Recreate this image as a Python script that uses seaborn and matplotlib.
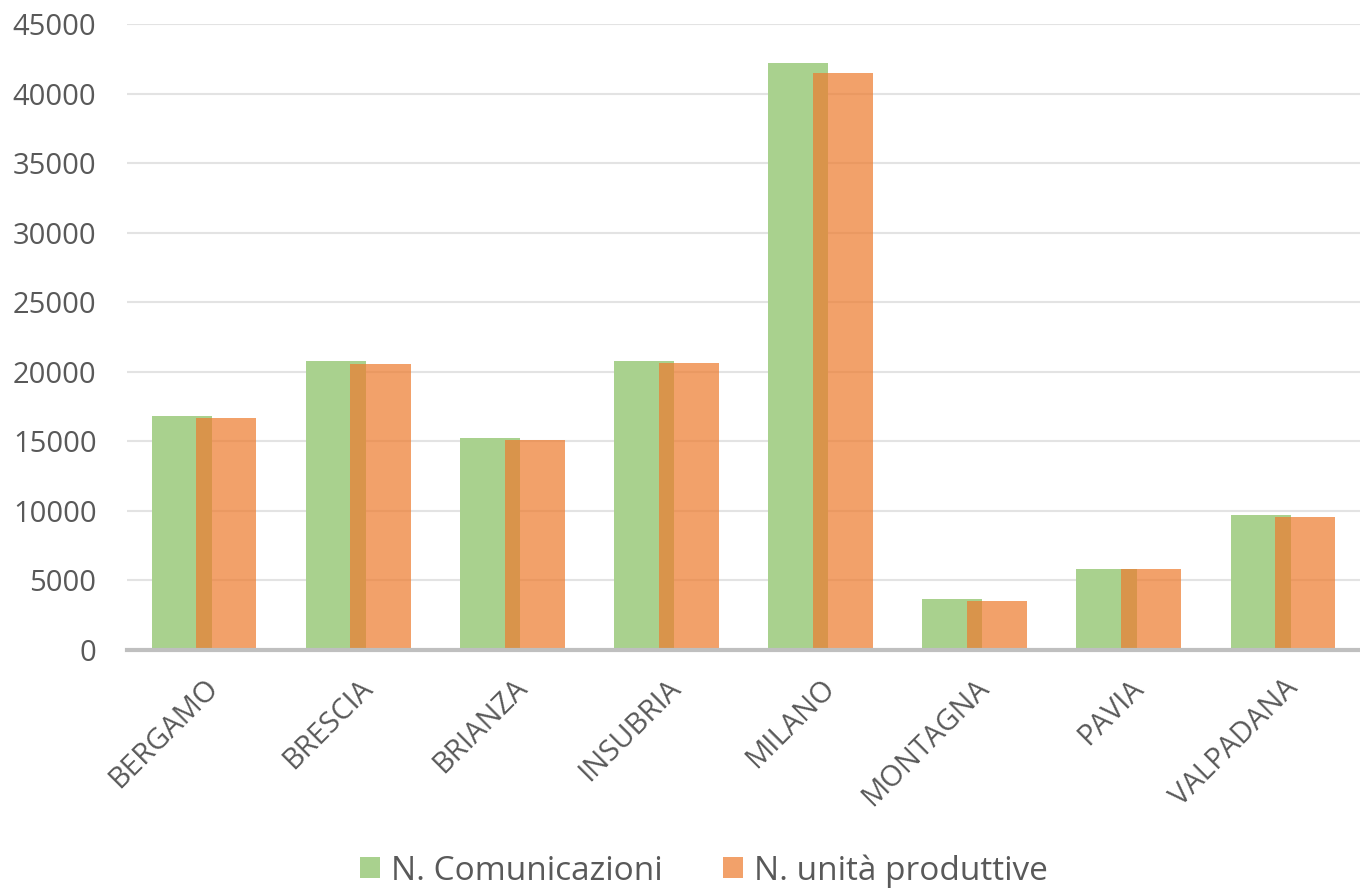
import numpy as np
import pandas as pd
import matplotlib
matplotlib.use("Agg")
import matplotlib.pyplot as plt
import seaborn as sns

# data
regioni = ["BERGAMO", "BRESCIA", "BRIANZA", "INSUBRIA", "MILANO", "MONTAGNA", "PAVIA", "VALPADANA"]
comunicazioni = [16780, 20780, 15220, 20780, 42180, 3640, 5800, 9680]
unita_produttive = [16650, 20540, 15100, 20660, 41460, 3500, 5790, 9540]
serie = ["N. Comunicazioni", "N. unità produttive"]
colori = ["#a9d18e", "#ed7d31"]

df = pd.DataFrame({
    "regione": regioni * 2,
    "valore": comunicazioni + unita_produttive,
    "serie": [serie[0]] * len(regioni) + [serie[1]] * len(regioni),
})

sns.set_theme(style="white")
plt.rcParams["font.family"] = ["Open Sans", "DejaVu Sans"]

fig = plt.figure(figsize=(13.6, 8.89), dpi=100)
ax = fig.add_axes([0.0934, 0.269, 0.9066, 0.704])

# overlapping bars: dodge with a negative gap so the two bars overlap
sns.barplot(data=df, x="regione", y="valore", hue="serie", order=regioni,
            hue_order=serie, palette=colori, width=0.58, gap=-0.345,
            saturation=1, linewidth=0, edgecolor="none", ax=ax, legend=True)

for p in ax.containers[1]:
    p.set_alpha(0.72)

ax.set_ylim(0, 45000)
ax.set_xlim(-0.5, len(regioni) - 0.5)
ax.set_yticks(np.arange(0, 45001, 5000))
ax.yaxis.grid(True, color="#e3e3e3", linewidth=1.5)
ax.set_axisbelow(True)
for s in ["top", "right", "left"]:
    ax.spines[s].set_visible(False)
ax.spines["bottom"].set_color("#bfbfbf")
ax.spines["bottom"].set_linewidth(3)

ax.set_xlabel("")
ax.set_ylabel("")
ax.tick_params(axis="y", labelsize=21, colors="#595959", length=0, pad=22)
ax.tick_params(axis="x", labelsize=21, colors="#595959", length=0, pad=17)
plt.setp(ax.get_xticklabels(), rotation=45, ha="right", rotation_mode="anchor")

handles, labels = ax.get_legend_handles_labels()
leg = ax.legend(handles, labels, loc="center", bbox_to_anchor=(0.468, -0.353),
                ncol=2, frameon=False, fontsize=24, handlelength=0.6, handleheight=0.6,
                handletextpad=0.33, columnspacing=1.8, labelcolor="#595959")
leg.legend_handles[1].set_alpha(0.72)

fig.savefig("out.png", dpi=100)
